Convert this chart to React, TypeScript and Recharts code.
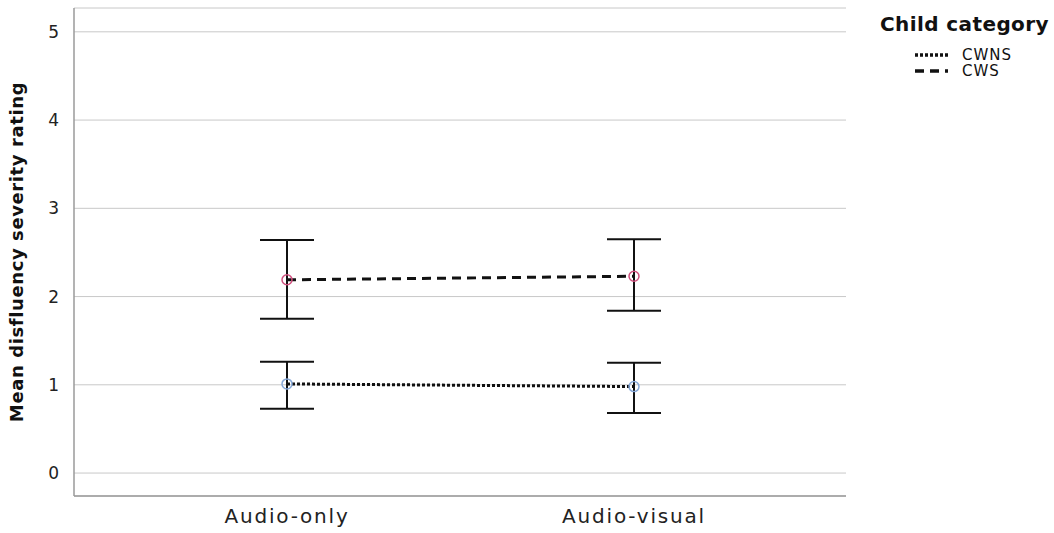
import { LineChart, Line, XAxis, YAxis, CartesianGrid, ErrorBar } from "recharts"

const conditions = ["Audio-only", "Audio-visual"]
const cwnsMean = [1.01, 0.98]
const cwnsLow = [0.73, 0.68]
const cwnsHigh = [1.26, 1.25]
const cwsMean = [2.19, 2.23]
const cwsLow = [1.75, 1.84]
const cwsHigh = [2.64, 2.65]
const yTicks = [0, 1, 2, 3, 4, 5]

const chartData = conditions.map((c, i) => ({
  condition: c,
  CWNS: cwnsMean[i],
  cwnsErr: [cwnsMean[i] - cwnsLow[i], cwnsHigh[i] - cwnsMean[i]],
  CWS: cwsMean[i],
  cwsErr: [cwsMean[i] - cwsLow[i], cwsHigh[i] - cwsMean[i]],
}))

const FONT = "'DejaVu Sans', sans-serif"

const OpenCircle = (color: string) => (props: any) => {
  const { cx, cy, index } = props
  if (cx == null || cy == null) return null
  return <circle key={index} cx={cx} cy={cy} r={5} fill="none" stroke={color} strokeWidth={1.5} />
}

const legendItems = [
  { name: "CWNS", dash: "3 2", top: 48 },
  { name: "CWS", dash: "9 6", top: 64 },
]

const LegendBox = () => (
  <div style={{ position: "absolute", left: 0, top: 0, width: 1054, height: 100, fontFamily: FONT, color: "#111", pointerEvents: "none" }}>
    <div style={{ position: "absolute", left: 880, top: 12, fontSize: 20, fontWeight: "bold", letterSpacing: 0.4, lineHeight: "24px", whiteSpace: "nowrap" }}>
      Child category
    </div>
    {legendItems.map((it) => (
      <div key={it.name} style={{ position: "absolute", left: 915, top: it.top, display: "flex", alignItems: "center", height: 14 }}>
        <svg width={34} height={10}>
          <line x1={0} y1={5} x2={33} y2={5} stroke="#111" strokeWidth={3.5} strokeDasharray={it.dash} />
        </svg>
        <span style={{ fontSize: 15, letterSpacing: 1, marginLeft: 13, lineHeight: "14px" }}>{it.name}</span>
      </div>
    ))}
  </div>
)

export default function App() {
  return (
    <div style={{ position: "absolute", left: 0, top: 0, width: 1054, height: 533, background: "#fff" }}>
      <LineChart width={1054} height={533} data={chartData} margin={{ top: 8, right: 208, left: 0, bottom: 0 }}>
        <CartesianGrid vertical={false} stroke="#c8c8c8" />
        <XAxis
          dataKey="condition"
          padding={{ left: 213, right: 212 }}
          height={37}
          tickLine={false}
          axisLine={{ stroke: "#9a9a9a", strokeWidth: 1.5 }}
          tick={{ fontSize: 20, fill: "#222", fontFamily: FONT, letterSpacing: 1.8 }}
          tickMargin={7}
        />
        <YAxis
          type="number"
          domain={[-0.26, 5.27]}
          ticks={yTicks}
          allowDataOverflow
          width={74}
          tickLine={false}
          axisLine={{ stroke: "#9a9a9a", strokeWidth: 1.5 }}
          tick={{ fontSize: 17, fill: "#222", fontFamily: FONT }}
          tickMargin={9}
          label={{
            value: "Mean disfluency severity rating",
            angle: -90,
            position: "insideLeft",
            dx: 12,
            style: { fontSize: 18, fontWeight: "bold", fill: "#111", fontFamily: FONT, textAnchor: "middle", letterSpacing: 0.6 },
          }}
        />
        <Line
          dataKey="CWNS"
          stroke="#111"
          strokeWidth={3}
          strokeDasharray="3 2"
          dot={OpenCircle("#86a8d8")}
          activeDot={false}
          isAnimationActive={false}
        >
          <ErrorBar dataKey="cwnsErr" width={27} stroke="#111" strokeWidth={2} direction="y" />
        </Line>
        <Line
          dataKey="CWS"
          stroke="#111"
          strokeWidth={3}
          strokeDasharray="9 6"
          dot={OpenCircle("#d0507e")}
          activeDot={false}
          isAnimationActive={false}
        >
          <ErrorBar dataKey="cwsErr" width={27} stroke="#111" strokeWidth={2} direction="y" />
        </Line>
      </LineChart>
      <LegendBox />
    </div>
  )
}
